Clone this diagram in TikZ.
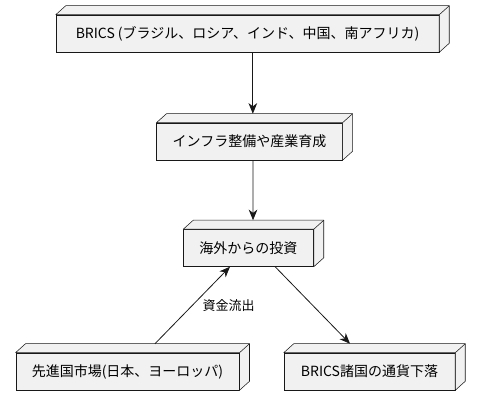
\documentclass[tikz,border=0pt]{standalone}
\usepackage{fontspec}
\setmainfont{Noto Sans CJK JP}
\usetikzlibrary{arrows.meta}
\definecolor{nodefill}{HTML}{F1F1F1}
\definecolor{nodeline}{HTML}{181818}

\begin{document}
\begin{tikzpicture}
      [x=.75pt,y=-.75pt
      ,box/.style={draw=nodeline,fill=nodefill,line width=.4pt,minimum height=27.75pt,
                   inner xsep=12pt,font=\fontsize{10.5pt}{12pt}\selectfont}
      ,face/.style={draw=nodeline,fill=nodefill,line width=.4pt,line join=round}
      ,arr/.style={draw=nodeline,line width=.6pt,-{Stealth[length=8pt,width=6.5pt,inset=2.5pt]}}
      ,lbl/.style={font=\fontsize{9.75pt}{11pt}\selectfont}
      ]
        \useasboundingbox (0,0) rectangle (480,406);
        \node[box,minimum width=287.25pt] (n1) at (247.5,33.5) {BRICS (ブラジル、ロシア、インド、中国、南アフリカ)};
        \node[box,minimum width=138.75pt] (n2) at (249.5,141.5) {インフラ整備や産業育成};
        \node[box,minimum width=96.75pt] (n3) at (248.5,248) {海外からの投資};
        \node[box,minimum width=165.75pt] (n4) at (127.5,371.5) {先進国市場(日本、ヨーロッパ)};
        \node[box,minimum width=128.25pt] (n5) at (369.5,371.5) {BRICS諸国の通貨下落};
        % top and right faces
        \foreach \n in {n1,n2,n3,n4,n5}{
          \draw[face] (\n.north west) -- ++(7.5pt,6.75pt) -- ([shift={(7.5pt,6.75pt)}]\n.north east)
            -- ([shift={(7.5pt,6.75pt)}]\n.south east) -- (\n.south east) -- (\n.north east) -- cycle;
          \draw[face] (\n.north east) -- ++(7.5pt,6.75pt);
        }
        \draw[arr] ([xshift=4pt]n1.south) -- ([shift={(2.5pt,6.75pt)}]n2.north);
        \draw[arr] ([xshift=2.6pt]n2.south) -- ([shift={(3.4pt,6.75pt)}]n3.north);
        \draw[arr] ([xshift=20pt]n3.south) -- ([shift={(-14.6pt,6.75pt)}]n5.north);
        \draw[arr] ([shift={(20.6pt,6.75pt)}]n4.north) -- ([xshift=-13.9pt]n3.south)
          node[pos=.5,right,lbl,xshift=4pt] (l1) {資金流出};
      \end{tikzpicture}
\end{document}
